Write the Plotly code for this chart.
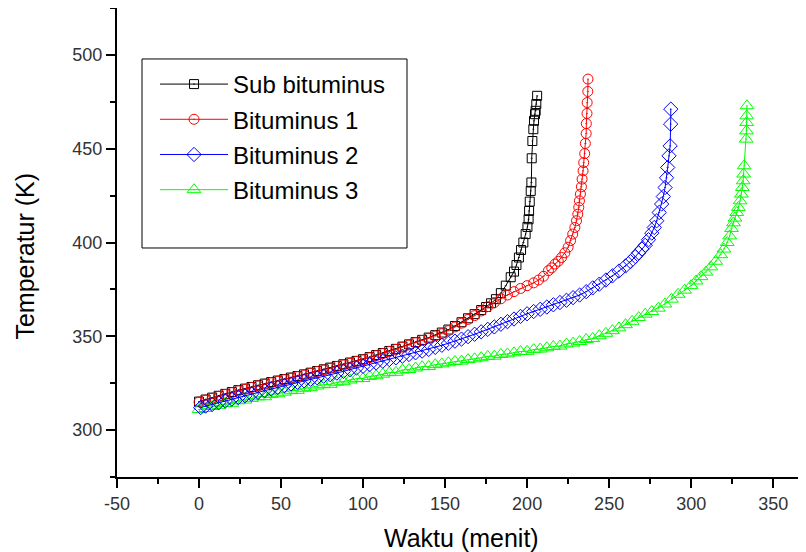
import plotly.graph_objects as go

FONT = "Arial, 'Liberation Sans', sans-serif"

# ---------------- data ----------------
names = ["Sub bituminus", "Bituminus 1", "Bituminus 2", "Bituminus 3"]

sub_t = [0, 4, 8, 12, 16, 20, 24, 28, 32, 36, 40, 44, 48, 52, 56, 60, 64, 68, 72, 76,
         80, 84, 88, 92, 96, 100, 104, 108, 112, 116, 120, 124, 128, 132, 136, 140, 144,
         148, 152, 156, 160, 164, 168, 172, 175, 178, 181, 184, 187, 190, 192, 193.5, 195,
         196.3, 197.7, 199.1, 200.2, 200.9, 201.2, 201.6, 202.2, 202.6, 202.8, 203.2, 203.8,
         204.2, 204.8, 205.2, 205.6, 206.1]
sub_T = [315.2, 316.3, 317.3, 318.3, 319.3, 320.3, 321.3, 322.1, 323.0, 323.9, 324.8, 325.6,
         326.4, 327.2, 328.0, 328.8, 329.7, 330.6, 331.5, 332.4, 333.3, 334.2, 335.1, 336.0,
         336.9, 337.8, 338.9, 340.0, 341.1, 342.2, 343.3, 344.5, 345.7, 346.9, 348.1, 349.3,
         350.6, 352.0, 353.6, 355.5, 357.5, 359.6, 361.8, 364.0, 365.6, 367.6, 369.8, 373.0,
         377.0, 381.5, 384.5, 388.0, 392.0, 396.0, 400.0, 404.5, 408.3, 412.4, 416.8, 421.8,
         427.5, 432.0, 444.9, 454.1, 460.4, 464.9, 468.4, 470.2, 473.8, 478.2]

b1_t = [0, 4, 8, 12, 16, 20, 24, 28, 32, 36, 40, 44, 48, 52, 56, 60, 64, 68, 72, 76, 80,
        84, 88, 92, 96, 100, 104, 108, 112, 116, 120, 124, 128, 132, 136, 140, 144, 148,
        152, 156, 160, 164, 168, 172, 176, 180, 184, 188, 192, 196, 200, 204, 207, 210,
        213, 215, 217, 219, 221, 223, 225, 226.5, 227.8, 229.1, 230.1, 230.9, 231.5,
        231.9, 232.5, 233.1, 233.5, 234.1, 234.5, 235.1, 235.5, 236.0, 236.1, 236.5,
        236.6, 237.0, 237.1]
b1_T = [315.0, 316.0, 317.0, 318.0, 319.0, 320.0, 321.0, 321.8, 322.7, 323.6, 324.5, 325.3,
        326.1, 326.9, 327.7, 328.5, 329.4, 330.3, 331.2, 332.1, 333.0, 333.9, 334.8, 335.7,
        336.6, 337.5, 338.6, 339.7, 340.8, 341.9, 343.0, 344.2, 345.4, 346.6, 347.8, 349.0,
        350.2, 351.4, 353.0, 355.0, 357.0, 359.0, 361.0, 363.5, 365.8, 368.0, 370.0, 372.0,
        373.8, 375.5, 377.0, 378.5, 380.0, 382.0, 385.0, 386.5, 388.5, 390.0, 392.0, 394.5,
        397.5, 401.0, 404.5, 408.0, 411.6, 415.1, 418.7, 422.2, 425.8, 429.7, 433.8, 438.2,
        442.6, 447.4, 452.8, 458.1, 463.4, 468.8, 474.6, 480.5, 487.1]

b2_t = [1, 4, 8, 12, 16, 20, 24, 28, 32, 36, 40, 44, 48, 52, 56, 60, 64, 68, 72, 76, 80,
        84, 88, 92, 96, 100, 104, 108, 112, 116, 120, 124, 128, 132, 136, 140, 144, 148,
        152, 156, 160, 164, 168, 172, 176, 180, 184, 188, 192, 196, 200, 204, 208, 212,
        216, 220, 224, 228, 232, 236, 240, 244, 248, 252, 256, 260, 263, 266, 268, 270,
        272, 274, 276, 277.5, 279, 280.5, 282, 283, 284.1, 285, 285.7, 286.5, 287.2,
        287.5, 287.6]
b2_T = [312.0, 312.8, 313.7, 314.6, 315.5, 316.5, 317.4, 318.3, 319.2, 320.1, 321.0, 321.9,
        322.8, 323.7, 324.6, 325.5, 326.3, 327.1, 327.9, 328.7, 329.5, 330.4, 331.3, 332.2,
        333.1, 334.0, 334.9, 335.8, 336.7, 337.6, 338.5, 339.4, 340.3, 341.2, 342.1, 343.0,
        344.1, 345.2, 346.3, 347.4, 348.5, 349.8, 351.1, 352.4, 353.7, 355.0, 356.4, 357.8,
        359.2, 360.6, 362.0, 363.2, 364.4, 365.6, 366.8, 368.0, 369.2, 370.6, 372.0, 373.8,
        375.8, 377.8, 380.0, 382.2, 384.8, 387.5, 389.8, 392.5, 394.5, 396.5, 398.5, 401.5,
        405.0, 408.0, 411.6, 416.0, 420.5, 424.5, 429.3, 434.5, 440.0, 446.2, 451.5, 463.1,
        471.1]

b3_t = [0, 4, 8, 12, 16, 20, 24, 28, 32, 36, 40, 44, 48, 52, 56, 60, 64, 68, 72, 76, 80,
        84, 88, 92, 96, 100, 104, 108, 112, 116, 120, 124, 128, 132, 136, 140, 144, 148,
        152, 156, 160, 164, 168, 172, 176, 180, 184, 188, 192, 196, 200, 204, 208, 212,
        216, 220, 224, 228, 232, 236, 240, 244, 248, 252, 256, 260, 264, 268, 272, 276,
        280, 284, 288, 292, 296, 300, 303, 306, 309, 312, 315, 318, 320, 322, 323.5,
        324.6, 325.8, 326.7, 327.8, 328.8, 329.8, 330.6, 331.2, 331.7, 332.0, 332.3,
        333.5, 333.7, 333.8, 333.9, 334.0]
b3_T = [311.0, 311.5, 312.6, 313.2, 314.1, 314.3, 315.6, 316.0, 316.9, 317.7, 317.8, 319.0,
        319.4, 320.2, 321.0, 321.2, 322.3, 322.6, 323.5, 324.2, 324.4, 325.5, 325.8, 326.7,
        327.4, 327.5, 328.6, 329.0, 329.8, 330.6, 330.8, 332.0, 332.3, 333.1, 333.8, 333.9,
        334.9, 335.3, 335.9, 336.6, 336.8, 337.6, 338.0, 338.6, 339.3, 339.4, 340.3, 340.6,
        341.2, 341.9, 342.0, 342.9, 343.2, 343.9, 344.6, 344.8, 345.9, 346.4, 347.2, 348.3,
        348.8, 350.3, 351.6, 353.0, 354.5, 356.2, 358.0, 360.0, 361.8, 363.2, 365.0, 367.2,
        369.8, 372.4, 374.6, 377.0, 379.5, 381.8, 384.2, 387.0, 390.0, 393.5, 396.5, 400.0,
        403.5, 407.5, 410.5, 413.0, 416.0, 418.7, 422.2, 425.8, 429.3, 432.9, 436.5, 440.9,
        455.1, 459.5, 464.0, 467.5, 472.9]

x_ticks = [-50, 0, 50, 100, 150, 200, 250, 300, 350]
x_tick_labels = ["-50", "0", "50", "100", "150", "200", "250", "300", "350"]
y_ticks = [300, 350, 400, 450, 500]
y_tick_labels = ["300", "350", "400", "450", "500"]

# ---------------- figure ----------------
series = [
    # (name, t, T, colour, symbol, size, legend rank)
    (names[0], sub_t, sub_T, "#000000", "square-open-dot", 9, 1),
    (names[1], b1_t, b1_T, "#ff0000", "circle-open-dot", 10, 2),
    (names[3], b3_t, b3_T, "#00ff00", "triangle-up-open-dot", 12, 4),
    (names[2], b2_t, b2_T, "#0000ff", "diamond-open-dot", 11, 3),
]

fig = go.Figure()
for name, t, T, col, sym, sz, rank in series:
    fig.add_trace(go.Scatter(
        x=t, y=T, name=name, mode="lines+markers",
        line=dict(color=col, width=1),
        marker=dict(symbol=sym, size=sz, color=col, line=dict(color=col, width=1)),
        legendrank=rank, legendgroup=name,
    ))

axis_common = dict(
    showline=True, linecolor="black", linewidth=2,
    ticks="outside", ticklen=9, tickwidth=2, tickcolor="black",
    showgrid=False, zeroline=False, mirror=False,
    tickfont=dict(family=FONT, size=18, color="#333333"),
)

# the page adds an 8 px body margin, so the figure is 8 px smaller and the
# margins are compensated to keep the plot area at the reference position
fig.update_layout(
    width=798, height=544,
    margin=dict(l=109, r=0, t=0, b=75),
    paper_bgcolor="white", plot_bgcolor="white",
    font=dict(family=FONT, color="black"),
    xaxis=dict(range=[-50, 370], tickvals=x_ticks, ticktext=x_tick_labels,
               minor=dict(dtick=25, tick0=-25, ticks="outside", ticklen=5,
                          tickwidth=2, tickcolor="black"),
               **axis_common),
    yaxis=dict(range=[275, 525], tickvals=y_ticks, ticktext=y_tick_labels,
               minor=dict(dtick=25, tick0=275, ticks="outside", ticklen=5,
                          tickwidth=2, tickcolor="black"),
               **axis_common),
    legend=dict(x=0.0552, y=0.8849, xanchor="left", yanchor="top",
                bgcolor="rgba(0,0,0,0)", borderwidth=0,
                font=dict(family=FONT, size=24, color="black"),
                itemwidth=68, traceorder="grouped", tracegroupgap=1),
    showlegend=True,
    annotations=[
        dict(text="Waktu (menit)", xref="paper", yref="paper", x=0.5, y=0,
             yshift=-61, showarrow=False, xanchor="center", yanchor="middle",
             font=dict(family=FONT, size=25, color="black")),
        dict(text="Temperatur (K)", xref="paper", yref="paper", x=-0.1335, y=0.470,
             textangle=-90, showarrow=False, xanchor="center", yanchor="middle",
             font=dict(family=FONT, size=25, color="black")),
    ],
    shapes=[
        dict(type="rect", xref="paper", yref="paper",
             x0=0.0363, x1=0.4209, y0=0.4883, y1=0.8913,
             line=dict(color="black", width=1), fillcolor="rgba(0,0,0,0)"),
    ],
)

fig.write_html("out.html")
